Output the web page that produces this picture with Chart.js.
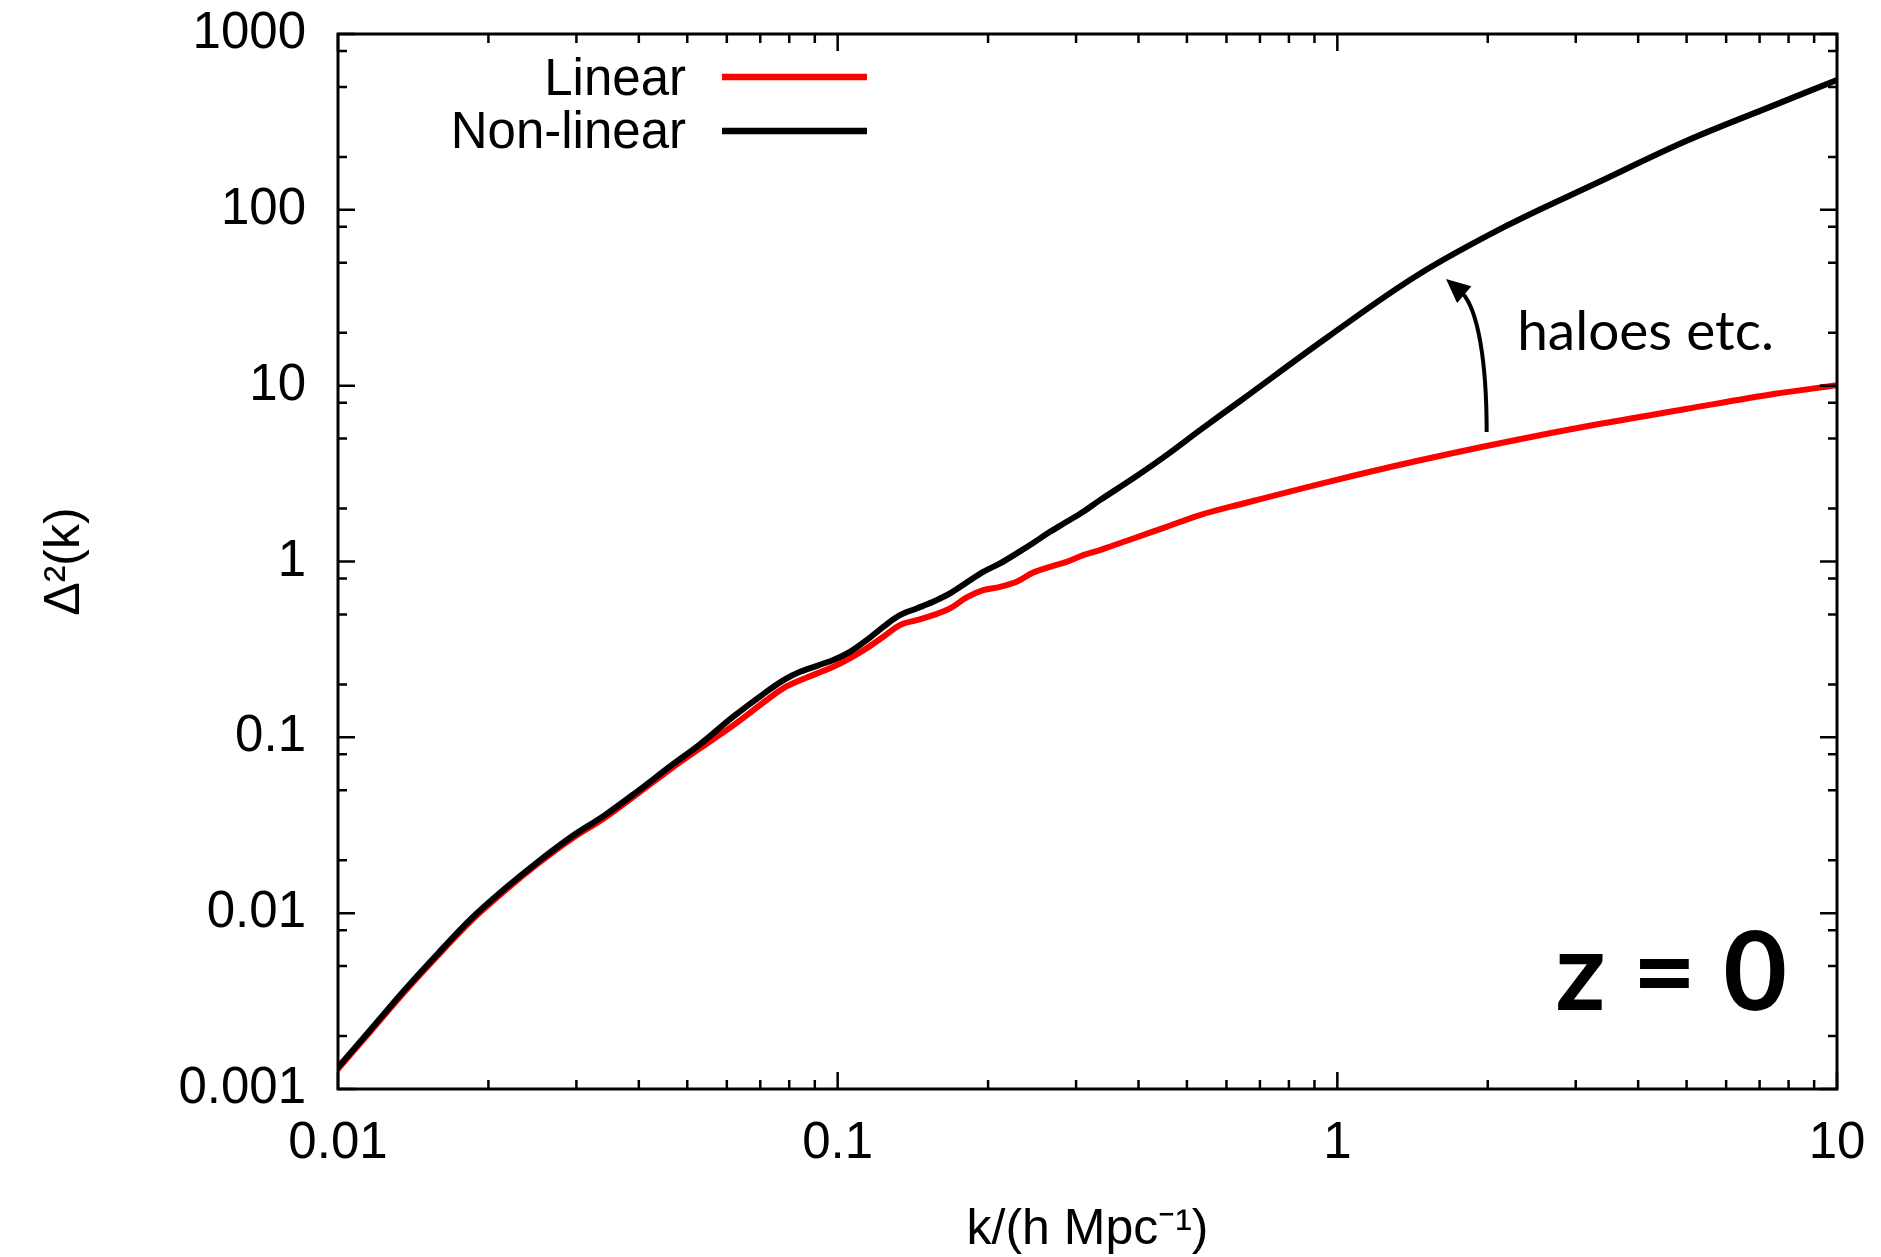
<!DOCTYPE html>
<html>
<head>
<meta charset="utf-8">
<script src="https://cdn.jsdelivr.net/npm/chart.js@4.4.1/dist/chart.umd.min.js"></script>
<style>
  html, body { margin: 0; padding: 0; background: #fff; }
  canvas { display: block; }
</style>
</head>
<body>
<canvas id="spectrumChart" width="1881" height="1257"></canvas>
<script>
// wavenumber k in h/Mpc
const kValues = [0.0100, 0.01167, 0.01358, 0.01585, 0.01849, 0.02158, 0.02512, 0.02931, 0.03420, 0.03981,
  0.04645, 0.0530, 0.0618, 0.0721, 0.0778, 0.0841, 0.0980, 0.1058, 0.1143, 0.1234,
  0.1332, 0.1439, 0.1553, 0.1678, 0.1812, 0.1956, 0.2113, 0.2282, 0.2462, 0.2660,
  0.2872, 0.3101, 0.3349, 0.3905, 0.4553, 0.5311, 0.637, 0.960, 1.449, 2.188,
  3.296, 4.977, 7.516, 10.0];

// Delta^2(k), linear theory
const linearValues = [0.00130, 0.00216, 0.00356, 0.00575, 0.00908, 0.0134, 0.0191, 0.0264, 0.0349, 0.0479,
  0.0665, 0.0865, 0.117, 0.163, 0.190, 0.211, 0.252, 0.281, 0.321, 0.373,
  0.435, 0.464, 0.495, 0.541, 0.625, 0.687, 0.718, 0.767, 0.865, 0.933,
  0.995, 1.087, 1.161, 1.352, 1.574, 1.837, 2.11, 2.84, 3.74, 4.80,
  6.01, 7.36, 8.99, 10.05];

// Delta^2(k), non-linear
const nonLinearValues = [0.00133, 0.00221, 0.00365, 0.00590, 0.00933, 0.0138, 0.0196, 0.0272, 0.0361, 0.0495,
  0.0692, 0.0912, 0.131, 0.182, 0.211, 0.236, 0.275, 0.306, 0.357, 0.425,
  0.495, 0.541, 0.590, 0.658, 0.759, 0.873, 0.975, 1.112, 1.274, 1.476,
  1.682, 1.918, 2.234, 2.972, 4.027, 5.585, 8.13, 19.05, 42.6, 81.5,
  141.6, 245.5, 395.4, 548];

const seriesLabels = ["Linear", "Non-linear"];

const xTickValues = [0.01, 0.1, 1, 10];
const xTickLabels = ["0.01", "0.1", "1", "10"];
const yTickValues = [0.001, 0.01, 0.1, 1, 10, 100, 1000];
const yTickLabels = ["0.001", "0.01", "0.1", "1", "10", "100", "1000"];
const xMinorSteps = [2, 3, 4, 5, 6, 7, 8, 9];
const yMinorSteps = [2, 5, 8];

// annotation anchors, in data units (k, Delta^2)
const arrowCurve = [[1.99, 5.45], [1.99, 14.0], [1.91, 26.9], [1.78, 33.6]];
const arrowTip = [1.65, 40.4];
const halosNote = { text: "haloes etc.", k: 2.29, d: 15.9 };
const redshiftNote = { text: "z = 0", k: 7.94, d: 0.0028 };

const sansFont = "'Liberation Sans', Arial, Helvetica, sans-serif";
const humanistFont = "Lato, 'Open Sans', sans-serif";

const toPoints = (vals) => kValues.map((k, i) => ({ x: k, y: vals[i] }));

// keep the plot frame exactly where the layout padding puts it
const pinScale = (s, key, size) => {
  s[key] = size;
  s.paddingTop = 0;
  s.paddingBottom = 0;
  s.paddingLeft = 0;
  s.paddingRight = 0;
};

// frame with inward ticks on all four sides, legend and notes
const decorPlugin = {
  id: "decor",
  afterDatasetsDraw(chart) {
    const { ctx, chartArea: a, scales: { x, y } } = chart;
    ctx.save();
    ctx.strokeStyle = "#000";
    ctx.fillStyle = "#000";
    ctx.lineCap = "butt";

    const tick = (x1, y1, x2, y2) => { ctx.moveTo(x1, y1); ctx.lineTo(x2, y2); };
    ctx.lineWidth = 2.5;
    ctx.beginPath();
    xTickValues.forEach((d, i) => {
      const px = x.getPixelForValue(d);
      tick(px, a.bottom, px, a.bottom - 17);
      tick(px, a.top, px, a.top + 17);
      if (i < xTickValues.length - 1) {
        xMinorSteps.forEach((m) => {
          const p = x.getPixelForValue(d * m);
          tick(p, a.bottom, p, a.bottom - 9);
          tick(p, a.top, p, a.top + 9);
        });
      }
    });
    yTickValues.forEach((d, i) => {
      const py = y.getPixelForValue(d);
      tick(a.left, py, a.left + 17, py);
      tick(a.right, py, a.right - 17, py);
      if (i < yTickValues.length - 1) {
        yMinorSteps.forEach((m) => {
          const p = y.getPixelForValue(d * m);
          tick(a.left, p, a.left + 9, p);
          tick(a.right, p, a.right - 9, p);
        });
      }
    });
    ctx.stroke();

    ctx.lineWidth = 3;
    ctx.strokeRect(a.left, a.top, a.right - a.left, a.bottom - a.top);

    // legend, text to the left of the sample line
    ctx.font = "51px " + sansFont;
    ctx.textAlign = "right";
    ctx.textBaseline = "alphabetic";
    chart.data.datasets.forEach((ds, i) => {
      ctx.fillStyle = "#000";
      ctx.fillText(ds.label, a.left + 348, a.top + 61 + i * 53);
      ctx.strokeStyle = ds.borderColor;
      ctx.lineWidth = 6.5;
      ctx.beginPath();
      ctx.moveTo(a.left + 384, a.top + 43 + i * 54);
      ctx.lineTo(a.left + 529, a.top + 43 + i * 54);
      ctx.stroke();
    });

    // curved arrow from the linear to the non-linear curve
    const pt = (p) => [x.getPixelForValue(p[0]), y.getPixelForValue(p[1])];
    const c = arrowCurve.map(pt);
    ctx.strokeStyle = "#000";
    ctx.lineWidth = 4;
    ctx.beginPath();
    ctx.moveTo(c[0][0], c[0][1]);
    ctx.bezierCurveTo(c[1][0], c[1][1], c[2][0], c[2][1], c[3][0], c[3][1]);
    ctx.stroke();
    const tip = pt(arrowTip);
    const dx = tip[0] - c[3][0], dy = tip[1] - c[3][1];
    const len = Math.hypot(dx, dy);
    const ux = dx / len, uy = dy / len;
    const bx = tip[0] - ux * 24, by = tip[1] - uy * 24;
    ctx.fillStyle = "#000";
    ctx.beginPath();
    ctx.moveTo(tip[0], tip[1]);
    ctx.lineTo(bx - uy * 11, by + ux * 11);
    ctx.lineTo(bx + uy * 11, by - ux * 11);
    ctx.closePath();
    ctx.fill();

    ctx.textAlign = "left";
    ctx.font = "55px " + humanistFont;
    ctx.fillText(halosNote.text, x.getPixelForValue(halosNote.k), y.getPixelForValue(halosNote.d));

    ctx.textAlign = "right";
    ctx.font = "bold 110px " + humanistFont;
    ctx.fillText(redshiftNote.text, x.getPixelForValue(redshiftNote.k), y.getPixelForValue(redshiftNote.d));
    ctx.restore();
  }
};

const ctx = document.getElementById("spectrumChart").getContext("2d");

new Chart(ctx, {
  type: "line",
  data: {
    datasets: [
      {
        label: seriesLabels[0],
        data: toPoints(linearValues),
        borderColor: "#ff0000",
        borderWidth: 6,
        order: 1,
      },
      {
        label: seriesLabels[1],
        data: toPoints(nonLinearValues),
        borderColor: "#000000",
        borderWidth: 6,
        order: 0,
      },
    ],
  },
  options: {
    responsive: false,
    animation: false,
    parsing: false,
    layout: { padding: { top: 34, right: 44, left: 0, bottom: 0 } },
    elements: {
      point: { radius: 0 },
      line: { tension: 0.35, borderJoinStyle: "round", borderCapStyle: "round" },
    },
    plugins: { legend: { display: false }, tooltip: { enabled: false } },
    scales: {
      x: {
        type: "logarithmic",
        min: 0.01,
        max: 10,
        grid: { display: false, drawTicks: false },
        border: { display: false },
        afterBuildTicks: (s) => { s.ticks = xTickValues.map((v) => ({ value: v })); },
        afterFit: (s) => pinScale(s, "height", 168),
        ticks: {
          color: "#000",
          font: { family: sansFont, size: 51 },
          padding: 24,
          maxRotation: 0,
          autoSkip: false,
          callback: (v) => xTickLabels[xTickValues.indexOf(v)] ?? "",
        },
        title: {
          display: true,
          text: "k/(h Mpc⁻¹)",
          color: "#000",
          font: { family: sansFont, size: 50, lineHeight: 1 },
          padding: { top: 0, bottom: 2 },
        },
      },
      y: {
        type: "logarithmic",
        min: 0.001,
        max: 1000,
        grid: { display: false, drawTicks: false },
        border: { display: false },
        afterBuildTicks: (s) => { s.ticks = yTickValues.map((v) => ({ value: v })); },
        afterFit: (s) => pinScale(s, "width", 338),
        ticks: {
          color: "#000",
          font: { family: sansFont, size: 51 },
          padding: 32,
          autoSkip: false,
          callback: (v) => yTickLabels[yTickValues.indexOf(v)] ?? "",
        },
        title: {
          display: true,
          text: "Δ²(k)",
          color: "#000",
          font: { family: sansFont, size: 50, lineHeight: 1 },
          padding: { top: 40, bottom: 0 },
        },
      },
    },
  },
  plugins: [decorPlugin],
});
</script>
</body>
</html>
